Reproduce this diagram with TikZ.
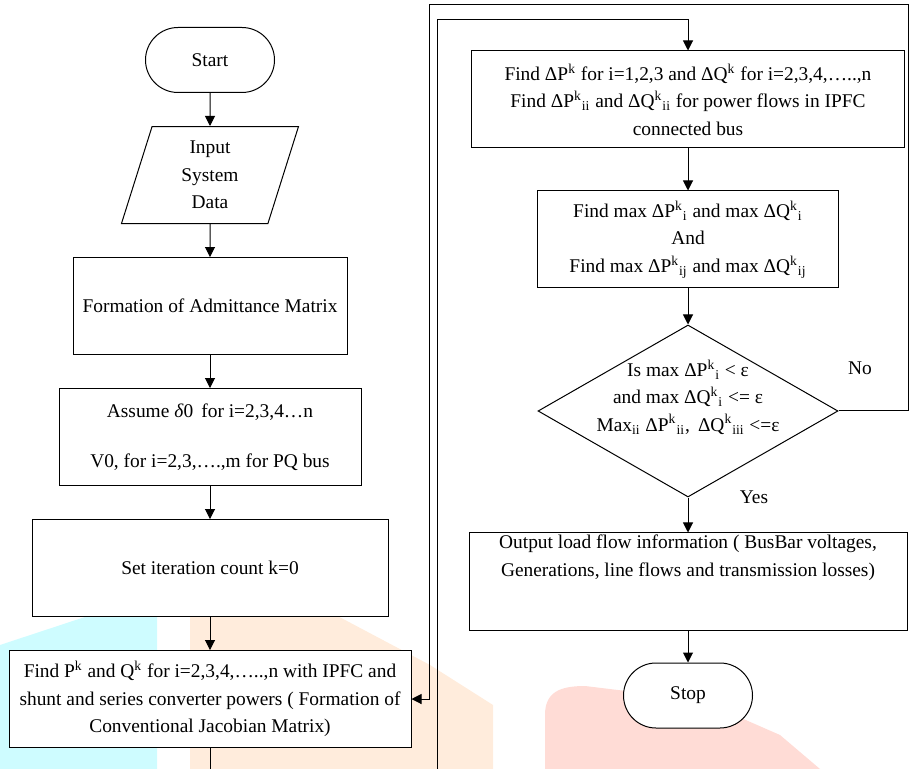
\documentclass[tikz,border=0pt]{standalone}
\usepackage{fontspec}
\setmainfont{Liberation Serif}
\usepackage{tikz}
\usetikzlibrary{arrows.meta,positioning,shapes.geometric,shapes.misc}

\definecolor{wmcyan}{RGB}{206,252,255}
\definecolor{wmorange}{RGB}{255,236,220}
\definecolor{wmpink}{RGB}{255,220,214}

\begin{document}
\begin{tikzpicture}[
    x = 0.5pt, y = -0.5pt, % one unit = one pixel of the page
    > = {Triangle[length=5pt,width=5pt]}, % arrow head style
    node distance = 16.5pt, % distance between boxes
    font = \fontsize{9.7}{13.7}\selectfont,
    line width = 0.5pt,
    every node/.style = {inner sep=2pt, align=center},
    terminal/.style = {rounded rectangle, draw, fill=white,
        minimum width=68.5pt, minimum height=32.5pt},
    io/.style = {trapezium, trapezium left angle=68, trapezium right angle=112,
        trapezium stretches body, draw, fill=white,
        minimum width=88.5pt, minimum height=48.5pt},
    process/.style = {rectangle, draw, fill=white, minimum height=48.5pt},
    decision/.style = {diamond, draw, fill=white,
        minimum width=150pt, minimum height=86pt, inner sep=0pt}
    ]
    \useasboundingbox (0,0) rectangle (910,769);

    % watermark in the background
    \fill[wmcyan] (0,645) -- (100,612) -- (157,610) -- (157,769) -- (0,769) -- cycle;
    \fill[wmorange] (190,769) -- (190,612) -- (330,612) -- (430,665) -- (493,705) -- (493,769) -- cycle;
    \fill[wmpink] (545,769) -- (545,715) .. controls (545,692) and (560,686) .. (585,686)
        -- (700,700) -- (780,735) -- (820,769) -- cycle;

    % left column
    \node[terminal] (start) at (210,60) {Start};
    \node[io, below=of start] (input) {Input\\System\\Data};
    \node[process, minimum width=137pt, below=of input] (admit) {Formation of Admittance Matrix};
    \node[process, minimum width=151pt, below=of admit] (assume)
        {Assume \textit{δ}0\, for i=2,3,4…n\\[11.3pt]V0, for i=2,3,….,m for PQ bus};
    \node[process, minimum width=178pt, below=of assume] (iter) {Set iteration count k=0};
    \node[process, minimum width=201pt, below=of iter] (findpq)
        {Find P\textsuperscript{k} and Q\textsuperscript{k} for i=2,3,4,…..,n with IPFC and\\
         shunt and series converter powers ( Formation of\\
         Conventional Jacobian Matrix)};

    % right column
    \node[process, minimum width=216.5pt] (mismatch) at (688,99.5)
        {Find ΔP\textsuperscript{k} for i=1,2,3 and ΔQ\textsuperscript{k} for i=2,3,4,…..,n\\
         Find ΔP\textsuperscript{k}\textsubscript{ii} and ΔQ\textsuperscript{k}\textsubscript{ii} for power flows in IPFC\\
         connected bus};
    \node[process, minimum width=150.5pt, below=21pt of mismatch] (maxerr)
        {Find max ΔP\textsuperscript{k}\textsubscript{i} and max ΔQ\textsuperscript{k}\textsubscript{i}\\
         And\\
         Find max ΔP\textsuperscript{k}\textsubscript{ij} and max ΔQ\textsuperscript{k}\textsubscript{ij}};
    \node[decision, below=18pt of maxerr] (check) {};
    \node (checktext) at ([yshift=7pt]check.center)
        {Is max ΔP\textsuperscript{k}\textsubscript{i} < ε\\
         and max ΔQ\textsuperscript{k}\textsubscript{i} <= ε\\
         Max\textsubscript{ii} ΔP\textsuperscript{k}\textsubscript{ii},\, ΔQ\textsuperscript{k}\textsubscript{iii} <=ε};
    \node[process, minimum width=219pt, below=17.5pt of check] (output) {};
    \node[anchor=north, inner sep=1pt] (outtext) at (output.north)
        {Output load flow information ( BusBar voltages,\\
         Generations, line flows and transmission losses)};
    \node[terminal, below=16pt of output] (stop) {Stop};

    \node (no) at (860,368) {No};
    \node (yes) at (754,497) {Yes};

    \path[->] (start) edge (input)
              (input) edge (admit)
              (admit) edge (assume)
              (assume) edge (iter)
              (iter) edge (findpq)
              (mismatch) edge (maxerr)
              (maxerr) edge (check)
              (check) edge (output)
              (output) edge (stop);

    % iteration loops
    \coordinate (pqout) at (210,769);
    \coordinate (loopin) at (437,769);
    \coordinate (looptop) at (437,20);
    \coordinate (noright) at (908,5);
    \coordinate (noleft) at (429,5);
    \draw (findpq.south) -- (pqout);
    \draw[->] (loopin) -- (looptop) -| (mismatch.north);
    \draw[->] (check.east) -| (noright) -- (noleft) |- (findpq.east);
\end{tikzpicture}
\end{document}
